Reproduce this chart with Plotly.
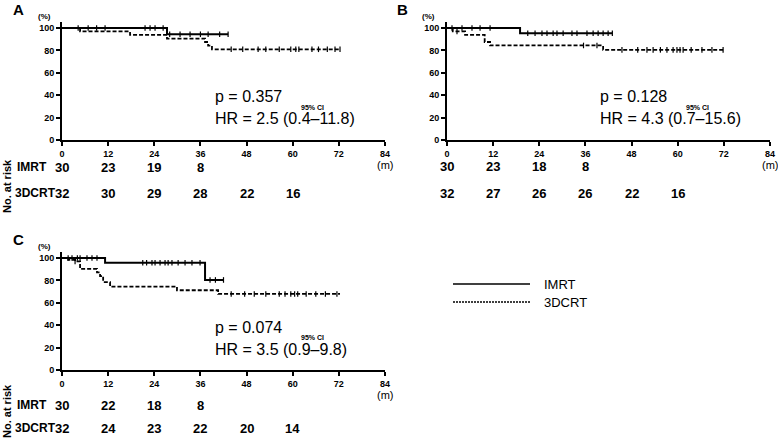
import plotly.graph_objects as go

# ---- data ----
months = [0, 12, 24, 36, 48, 60, 72, 84]
pct_ticks = [0, 20, 40, 60, 80, 100]

# panel A
a_imrt_t = [0, 27.3, 43.2]
a_imrt_s = [100, 94.4, 94.4]
a_imrt_cens = [4.2, 6.8, 9, 11.2, 21.6, 22.9, 24.2, 26.3, 28, 30.7, 33.3, 36, 38, 41, 43.2]
a_3d_t = [0, 4.7, 17.7, 27.3, 37.2, 38, 39, 72.3]
a_3d_s = [100, 96.9, 93.8, 90.6, 87.5, 84.2, 81, 81]
a_3d_cens = [44, 47, 51, 53, 56.5, 59.5, 60.8, 61.6, 65, 66.7, 69, 71, 72.3]
a_risk_imrt = ["30", "23", "19", "8"]
a_risk_3d = ["32", "30", "29", "28", "22", "16"]

# panel B
b_imrt_t = [0, 19, 43]
b_imrt_s = [100, 95.3, 95.3]
b_imrt_cens = [1.3, 3.9, 6.5, 8.6, 11.2, 21, 22.9, 24.7, 26, 27.6, 28.6, 30.2, 32.5,
               33.8, 36.4, 38, 39.3, 40.6, 41.9, 43]
b_3d_t = [0, 1.5, 4.7, 9.8, 11.2, 40.6, 72]
b_3d_s = [100, 96.9, 93.8, 87.5, 84.4, 80.5, 80.5]
b_3d_cens = [2.6, 35.5, 39, 45.5, 49.6, 52, 53.6, 55.5, 57.2, 58.8, 59.8, 60.6, 61.4,
             63.5, 66.3, 68.9, 71.8]
b_risk_imrt = ["30", "23", "18", "8"]
b_risk_3d = ["32", "27", "26", "26", "22", "16"]

# panel C
c_imrt_t = [0, 11.2, 37.2, 42]
c_imrt_s = [100, 95.8, 80.4, 80.4]
c_imrt_cens = [1.6, 2.6, 4, 4.7, 6.5, 7.8, 9.1, 21, 22, 23.4, 24.2, 25.5, 26.8, 27.6,
               28.6, 30.2, 32, 33.8, 35.9, 38.5, 39.9, 42]
c_3d_t = [0, 1.6, 3.4, 4.7, 9.1, 9.9, 10.7, 12.5, 29.9, 40.6, 72.3]
c_3d_s = [100, 98.4, 96.9, 90.3, 87.1, 83.9, 78.4, 74.5, 71.2, 67.9, 67.9]
c_3d_cens = [3.4, 44, 47.5, 50, 53, 56.5, 58, 59.5, 60.5, 61.3, 63.5, 66, 68.5, 71.5]
c_risk_imrt = ["30", "22", "18", "8"]
c_risk_3d = ["32", "24", "23", "22", "20", "14"]

stats = {
    "A": ("p = 0.357", "HR = 2.5 (0.4\u201311.8)"),
    "B": ("p = 0.128", "HR = 4.3 (0.7\u201315.6)"),
    "C": ("p = 0.074", "HR = 3.5 (0.9\u20139.8)"),
}

W, H = 778, 441
SANS = "Liberation Sans, Arial, sans-serif"


def px(x):
    return x / W


def py(y):
    return 1 - y / H


def surv_at(times, surv, t):
    s = surv[0]
    for ti, si in zip(times, surv):
        if ti <= t:
            s = si
    return s


def note(x, y, text, size, xanchor="center", xref="paper", bold=False, **kw):
    if bold:
        text = "<b>" + text + "</b>"
    return dict(x=x, y=y, xref=xref, yref="paper", text=text, showarrow=False,
                xanchor=xanchor, yanchor="middle",
                font=dict(family=SANS, size=size, color="black"), **kw)


fig = go.Figure()

# panel geometry in window pixels
panels = {
    "A": dict(ax="", x0=62, x1=385, y0=140, data=(a_imrt_t, a_imrt_s, a_imrt_cens, a_3d_t, a_3d_s, a_3d_cens),
              risk=(a_risk_imrt, a_risk_3d), rows=(167, 193), labels=True, risk_lab_y=186),
    "B": dict(ax="2", x0=447, x1=770, y0=140, data=(b_imrt_t, b_imrt_s, b_imrt_cens, b_3d_t, b_3d_s, b_3d_cens),
              risk=(b_risk_imrt, b_risk_3d), rows=(166, 193), labels=False),
    "C": dict(ax="3", x0=62, x1=385, y0=370, data=(c_imrt_t, c_imrt_s, c_imrt_cens, c_3d_t, c_3d_s, c_3d_cens),
              risk=(c_risk_imrt, c_risk_3d), rows=(405, 428), labels=True, risk_lab_y=411),
}
k = 1.12  # pixels per percent
ymax = 105
anns = []
shapes = []

for name, p in panels.items():
    xa, ya = "x" + p["ax"], "y" + p["ax"]
    it, is_, ic, dt, ds, dc = p["data"]
    solid = dict(color="black", width=2)
    dashed = dict(color="black", width=1.8, dash="4px,2px")
    tick = dict(symbol="line-ns", size=4, line=dict(color="black", width=1.2))
    fig.add_trace(go.Scatter(x=it, y=is_, mode="lines", line=solid, line_shape="hv",
                             xaxis=xa, yaxis=ya, showlegend=False))
    fig.add_trace(go.Scatter(x=dt, y=ds, mode="lines", line=dashed, line_shape="hv",
                             xaxis=xa, yaxis=ya, showlegend=False))
    fig.add_trace(go.Scatter(x=ic, y=[surv_at(it, is_, t) for t in ic], mode="markers", marker=tick,
                             xaxis=xa, yaxis=ya, showlegend=False, cliponaxis=False))
    fig.add_trace(go.Scatter(x=dc, y=[surv_at(dt, ds, t) for t in dc], mode="markers", marker=tick,
                             xaxis=xa, yaxis=ya, showlegend=False, cliponaxis=False))

    top = p["y0"] - ymax * k
    axis_common = dict(showline=True, linecolor="black", linewidth=2, ticks="outside",
                       ticklen=4, tickwidth=2, tickcolor="black", showgrid=False, zeroline=False,
                       automargin=False,
                       tickfont=dict(family=SANS, size=9, color="black", weight="bold"))
    fig.update_layout(**{
        "xaxis" + p["ax"]: dict(domain=[px(p["x0"]), px(p["x1"])], range=[0, 84], tickvals=months,
                                anchor=ya, **axis_common),
        "yaxis" + p["ax"]: dict(domain=[py(p["y0"]), py(top)], range=[0, ymax], tickvals=pct_ticks,
                                anchor=xa, **axis_common),
    })

    # risk table
    r_imrt, r_3d = p["risk"]
    for vals, yy in zip((r_imrt, r_3d), p["rows"]):
        for m, v in zip(months, vals):
            anns.append(note(m, py(yy), v, 13, xref=xa, bold=True))
    if p["labels"]:
        anns.append(note(px(15), py(p["rows"][0]), "IMRT", 12, xanchor="left", bold=True))
        anns.append(note(px(13), py(p["rows"][1]), "3DCRT", 12, xanchor="left", bold=True))
        anns.append(note(px(7), py(p["risk_lab_y"]), "No. at risk", 11, bold=True, textangle=-90))
    anns.append(note(84, py(p["y0"] + 25), "(m)", 11, xref=xa))
    anns.append(note(px(p["x0"] - 18), py(top - 6), "(%)", 8, bold=True))
    anns.append(note(px(p["x0"] - 44), py(top - 13), name, 15, bold=True))
    # stats text
    ptxt, hrtxt = stats[name]
    tx = p["x0"] + 151
    anns.append(note(px(tx), py(p["y0"] - 43), ptxt, 16, xanchor="left"))
    anns.append(note(px(tx), py(p["y0"] - 21), hrtxt, 16, xanchor="left"))
    anns.append(note(px(tx + 99), py(p["y0"] - 33), "95% CI", 7, bold=True))

# legend drawn by hand
shapes.append(dict(type="line", xref="paper", yref="paper", x0=px(453), x1=px(530), y0=py(284), y1=py(284),
                   line=dict(color="black", width=1.5)))
shapes.append(dict(type="line", xref="paper", yref="paper", x0=px(453), x1=px(530), y0=py(302), y1=py(302),
                   line=dict(color="black", width=1.3, dash="2px,1px")))
anns.append(note(px(542), py(284), "IMRT", 13, xanchor="left"))
anns.append(note(px(542), py(302), "3DCRT", 13, xanchor="left"))

fig.update_layout(width=W, height=H, margin=dict(l=0, r=0, t=0, b=0),
                  paper_bgcolor="white", plot_bgcolor="white",
                  annotations=anns, shapes=shapes, showlegend=False)

# drop the default 8px page margin so the figure fills the window
fig.write_html("out.html", config={"displayModeBar": False},
               post_script="document.body.style.margin='0';")
